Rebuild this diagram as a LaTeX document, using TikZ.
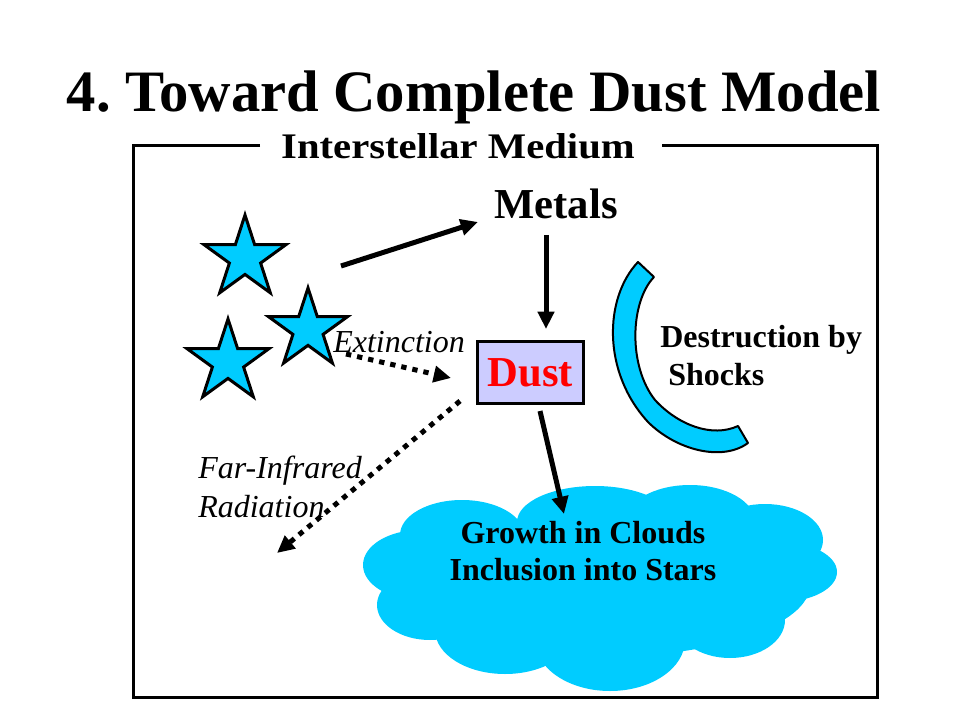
\documentclass[tikz,border=0pt]{standalone}
\usepackage{fontspec}
\setmainfont{Liberation Serif}
\newfontfamily\ismfont[FakeStretch=1.13]{Liberation Serif}
\usetikzlibrary{shapes.geometric,arrows.meta}
\definecolor{skyc}{HTML}{00CCFF}
\definecolor{boxc}{HTML}{CCCCFF}
\frenchspacing
\tikzset{
  starnode/.style={star, star points=5, star point ratio=2.618, draw=black, line width=2.25pt, fill=skyc, inner sep=0pt},
  arr/.style={line width=3.75pt, -{Triangle[length=13pt,width=12pt]}},
  dotarr/.style={line width=3.75pt, dash pattern=on 4pt off 4.5pt, -{Triangle[length=13pt,width=12pt]}},
  bodyb/.style={inner sep=0pt, font=\fontsize{24}{28}\selectfont\bfseries},
  bodyi/.style={inner sep=0pt, font=\fontsize{24}{28}\selectfont\itshape},
  bigb/.style={inner sep=0pt, font=\fontsize{32}{36}\selectfont\bfseries},
  frame/.style={line width=2.25pt, line join=miter}
}
\begin{document}
\begin{tikzpicture}[x=0.75pt,y=-0.75pt]
\useasboundingbox (0,0) rectangle (960,720);
% title
\node[anchor=base, inner sep=0pt, font=\fontsize{44}{50}\selectfont\bfseries] (title) at (474,112) {4. Toward Complete Dust Model};
% frame
\node[anchor=base, inner sep=0pt, font=\ismfont\fontsize{27}{30}\selectfont\bfseries] (ism) at (458,159) {Interstellar Medium};
\draw[frame] (260,146) -- (133,146) -- (133,697) -- (877,697) -- (877,146) -- (662,146);
% cloud
\begin{scope}[skyc]
\fill (600,585) ellipse [x radius=210, y radius=72];
\fill (420,565) ellipse [x radius=57, y radius=35];
\fill (430,605) ellipse [x radius=53, y radius=35];
\fill (462,535) ellipse [x radius=62, y radius=35];
\fill (595,522) ellipse [x radius=78, y radius=36];
\fill (690,522) ellipse [x radius=65, y radius=37];
\fill (765,540) ellipse [x radius=58, y radius=36];
\fill (780,572) ellipse [x radius=57, y radius=30];
\fill (730,620) ellipse [x radius=55, y radius=38];
\fill (610,640) ellipse [x radius=75, y radius=51];
\fill (505,630) ellipse [x radius=70, y radius=44];
\end{scope}
\node[bodyb, anchor=base] (grow) at (583,543) {Growth in Clouds};
\node[bodyb, anchor=base] (incl) at (583,580) {Inclusion into Stars};
% crescent
\filldraw[fill=skyc, draw=black, line width=1.5pt, line join=round]
  (638,262) .. controls (604,298) and (602,372) .. (648,422)
  .. controls (676,450) and (722,462) .. (748,443) -- (738,426)
  .. controls (712,438) and (678,425) .. (655,400)
  .. controls (628,366) and (630,302) .. (654,277) -- cycle;
\node[bodyb, anchor=base west] (destr) at (660,347) {Destruction by};
\node[bodyb, anchor=base west] (shock) at (668,385) {Shocks};
% stars
\node[starnode, minimum size=64.5pt] (s1) at (245,258) {};
\node[starnode, minimum size=62.25pt] (s2) at (308,329.5) {};
\node[starnode, minimum size=64.5pt] (s3) at (228,362) {};
% metals and dust
\node[bigb, anchor=base] (metals) at (556,219) {Metals};
\node[bigb, draw=black, line width=2.25pt, fill=boxc, text=red, minimum width=80pt, minimum height=46.5pt] (dust) at (530.5,372.5) {Dust};
% labels
\node[bodyi, anchor=base west] (ext) at (333,352) {Extinction};
\node[bodyi, anchor=base west] (fir1) at (198,478) {Far-Infrared};
\node[bodyi, anchor=base west] (fir2) at (198,517) {Radiation};
% connector ends
\coordinate (sm0) at (341,266);
\coordinate (sm1) at (478,222);
\coordinate (md0) at (546,235);
\coordinate (md1) at (546,329);
\coordinate (dc0) at (540,411);
\coordinate (dc1) at (564,514);
\coordinate (ex0) at (346,354);
\coordinate (ex1) at (451,378);
\coordinate (ir0) at (460,401);
\coordinate (ir1) at (277,553);
\draw[arr] (sm0) -- (sm1);
\draw[arr] (md0) -- (md1);
\draw[arr] (dc0) -- (dc1);
\draw[dotarr] (ex0) -- (ex1);
\draw[dotarr] (ir0) -- (ir1);
\end{tikzpicture}
\end{document}
